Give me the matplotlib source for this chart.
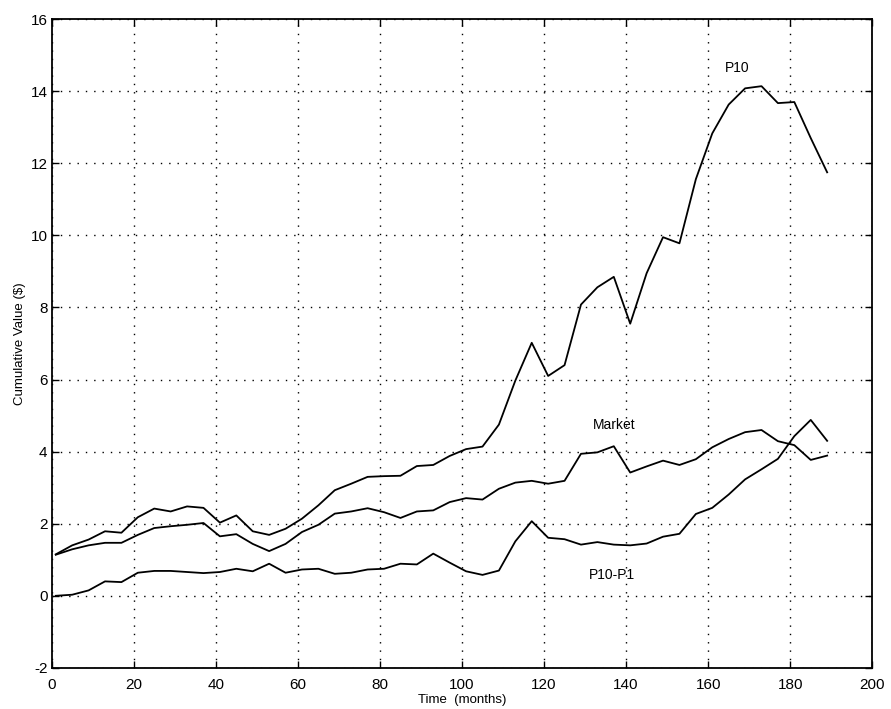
import matplotlib.pyplot as plt
import numpy as np

plt.rcParams["font.family"] = ["Liberation Sans", "DejaVu Sans"]
plt.rcParams["axes.unicode_minus"] = False

months = np.arange(1, 190, 4)

p10 = [1.15, 1.40, 1.56, 1.79, 1.75, 2.18, 2.42, 2.34, 2.48, 2.44,
       2.03, 2.23, 1.79, 1.69, 1.86, 2.14, 2.51, 2.93, 3.11, 3.30,
       3.32, 3.33, 3.60, 3.63, 3.88, 4.07, 4.14, 4.75, 5.97, 7.02,
       6.10, 6.40, 8.08, 8.56, 8.85, 7.55, 8.95, 9.95, 9.78, 11.56,
       12.83, 13.63, 14.08, 14.14, 13.67, 13.70, 12.70, 11.75]

market = [1.14, 1.29, 1.40, 1.47, 1.47, 1.69, 1.88, 1.93, 1.97, 2.02,
          1.65, 1.71, 1.44, 1.24, 1.44, 1.77, 1.97, 2.28, 2.34, 2.43,
          2.32, 2.16, 2.34, 2.37, 2.60, 2.71, 2.67, 2.97, 3.14, 3.19,
          3.11, 3.19, 3.94, 3.98, 4.15, 3.42, 3.59, 3.75, 3.63, 3.79,
          4.12, 4.35, 4.54, 4.60, 4.29, 4.18, 3.77, 3.89]

spread = [0.00, 0.03, 0.15, 0.40, 0.38, 0.64, 0.69, 0.69, 0.66, 0.63,
          0.66, 0.75, 0.68, 0.89, 0.64, 0.73, 0.75, 0.61, 0.64, 0.73,
          0.75, 0.89, 0.87, 1.17, 0.92, 0.68, 0.58, 0.70, 1.51, 2.07,
          1.61, 1.57, 1.42, 1.49, 1.42, 1.40, 1.45, 1.64, 1.72, 2.27,
          2.44, 2.81, 3.23, 3.51, 3.80, 4.43, 4.88, 4.30]

fig = plt.figure(figsize=(8.91, 7.09), dpi=100)
ax = fig.add_axes([0.058, 0.058, 0.921, 0.915])

for series in (p10, market, spread):
    ax.plot(months, series, color="black", linewidth=1.3)

ax.text(167, 14.65, "P10", fontsize=10, ha="center", va="center")
ax.text(137, 4.73, "Market", fontsize=10, ha="center", va="center")
ax.text(136.5, 0.58, "P10-P1", fontsize=10, ha="center", va="center")

ax.set_xlim(0, 200)
ax.set_ylim(-2, 16)
ax.set_xticks(np.arange(0, 201, 20))
ax.set_yticks(np.arange(-2, 17, 2))
ax.grid(True, color="black", linestyle=(0, (1, 5)), linewidth=1.0)
ax.tick_params(direction="in", top=True, right=True, length=5,
               labelsize=11, width=1.0)
ax.tick_params(axis="x", pad=7)
ax.tick_params(axis="y", pad=3)
for s in ax.spines.values():
    s.set_linewidth(1.3)

ax.set_xlabel("Time  (months)", fontsize=9.5, labelpad=2)
ax.set_ylabel("Cumulative Value ($)", fontsize=9.5, labelpad=3)

fig.savefig("out.png", dpi=100)
